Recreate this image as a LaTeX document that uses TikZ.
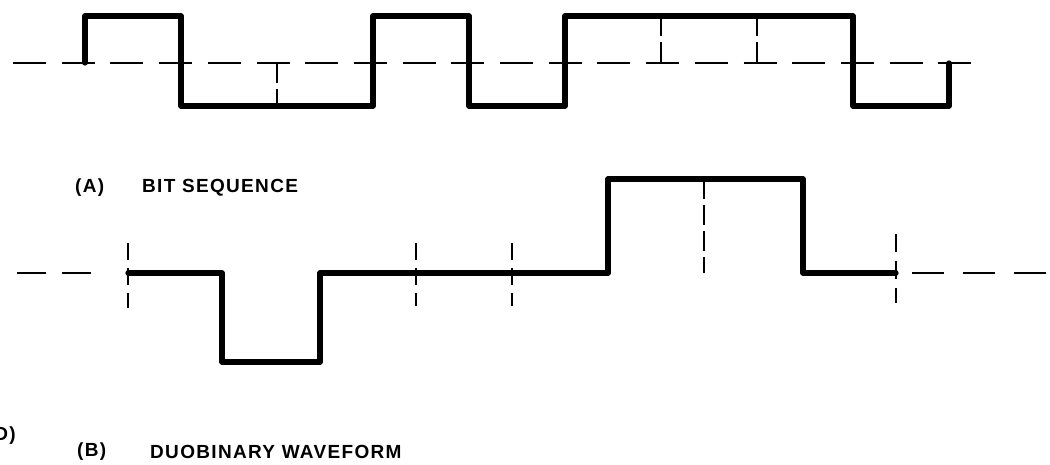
\documentclass[tikz,border=0pt]{standalone}
\usepackage{fontspec}
\setmainfont{Liberation Sans}
\newfontfamily\labelfont[LetterSpace=7,BoldFont={Liberation Sans Bold}]{Liberation Sans}
\begin{document}
\begin{tikzpicture}[x=1pt,y=-1pt,
    wave/.style={line width=5.2pt,line join=round,line cap=round},
    zeroline/.style={line width=2.8pt,dash pattern=on 33pt off 15.7pt},
    clockmark/.style={line width=2.5pt,dash pattern=on 20pt off 6pt},
    caption/.style={font=\labelfont\bfseries\fontsize{19}{21}\selectfont,inner sep=0pt,anchor=west}]
  \useasboundingbox (0,0) rectangle (1050,465);

  % (A) binary bit sequence: 1 0 0 1 0 1 1 1 0
  \draw[zeroline] (13,63) -- (972,63);
  \draw[wave] (85,63) -- (85,16) -- (181,16) -- (181,106) -- (373,106)
    -- (373,16) -- (469,16) -- (469,106) -- (565,106) -- (565,16)
    -- (853,16) -- (853,106) -- (949,106) -- (949,63);
  \draw[clockmark] (277,63) -- (277,106);
  \draw[clockmark] (661,16) -- (661,63);
  \draw[clockmark] (757,16) -- (757,63);

  \node[caption] (capA) at (75,188) {(A)};
  \node[caption] (titleA) at (142,188) {BIT SEQUENCE};

  % (B) three-level duobinary waveform: 0 -1 0 0 0 +1 +1 0
  \draw[zeroline,dash pattern=on 29pt off 16pt] (17,273) -- (95,273);
  \draw[zeroline,dash pattern=on 32pt off 19pt] (912,273) -- (1050,273);
  \draw[wave] (128,273) -- (222,273) -- (222,362) -- (320,362) -- (320,273)
    -- (608,273) -- (608,179) -- (803,179) -- (803,273) -- (896,273);
  \draw[clockmark,dash pattern=on 17pt off 8pt] (128,243) -- (128,308);
  \draw[clockmark,dash pattern=on 17pt off 8pt] (416,243) -- (416,306);
  \draw[clockmark,dash pattern=on 17pt off 8pt] (512,243) -- (512,306);
  \draw[clockmark] (704,179) -- (704,273);
  \draw[clockmark,dash pattern=on 18pt off 9pt] (896,234) -- (896,303);

  \node[caption,anchor=east] (capD) at (16,436) {(D)};
  \node[caption] (capB) at (77,452) {(B)};
  \node[caption] (titleB) at (150,452) {DUOBINARY WAVEFORM};
\end{tikzpicture}
\end{document}
